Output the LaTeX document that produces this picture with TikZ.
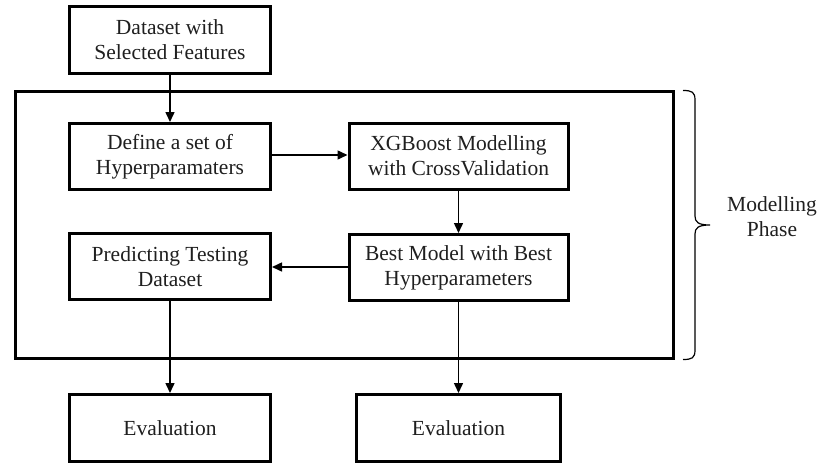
\documentclass[tikz,border=0pt]{standalone}
\usepackage{fontspec}
\setmainfont{Liberation Serif}
\usetikzlibrary{arrows.meta}
\begin{document}
\begin{tikzpicture}[x=1pt,y=-1pt,
  box/.style={draw, line width=3pt, inner sep=0pt, align=center,
    font=\fontsize{21.5}{25}\selectfont, text=black!88},
  lbox/.style={box, minimum width=201pt, minimum height=66pt},
  rbox/.style={box, minimum width=219pt, minimum height=66pt},
  conn/.style={line width=1.5pt, -{Triangle[length=10pt,width=9pt]}},
  frame/.style={draw, line width=3pt, inner sep=0pt, minimum width=658pt, minimum height=267pt}
]
\useasboundingbox (0,0) rectangle (820,464);
\node[frame] (fr) at (344.5,225) {};
\node[lbox, minimum height=67pt] (top) at (170,40) {Dataset with\\Selected Features};
\node[lbox] (def) at (170,156.5) {Define a set of\\Hyperparamaters};
\node[rbox] (xgb) at (458.5,156) {XGBoost Modelling\\with CrossValidation};
\node[lbox] (pred) at (170,266.5) {Predicting Testing\\Dataset};
\node[rbox] (best) at (458.5,267.5) {Best Model with Best\\Hyperparameters};
\node[lbox, minimum height=67pt] (ev1) at (170,428) {Evaluation};
\node[box, minimum width=204pt, minimum height=67pt] (ev2) at (458.5,428) {Evaluation};
\draw[conn] (top) -- (def);
\draw[conn] (def.east |- 0,155) -- (xgb.west |- 0,155);
\draw[conn] (xgb) -- (best);
\draw[conn] (best.west |- 0,267) -- (pred.east |- 0,267);
\draw[conn] (pred) -- (ev1);
\draw[conn] (best) -- (ev2);
\draw[line width=1.2pt] (683,90.5) .. controls (692,90.5) and (695,92) .. (695,100)
  -- (695,216) .. controls (695,222) and (698,225) .. (710,225)
  .. controls (698,225) and (695,228) .. (695,234)
  -- (695,350) .. controls (695,358) and (692,359.5) .. (683,359.5);
\node[font=\fontsize{21.5}{25}\selectfont, text=black!88, align=center, inner sep=0pt] (lab) at (772,217) {Modelling\\Phase};
\end{tikzpicture}
\end{document}
